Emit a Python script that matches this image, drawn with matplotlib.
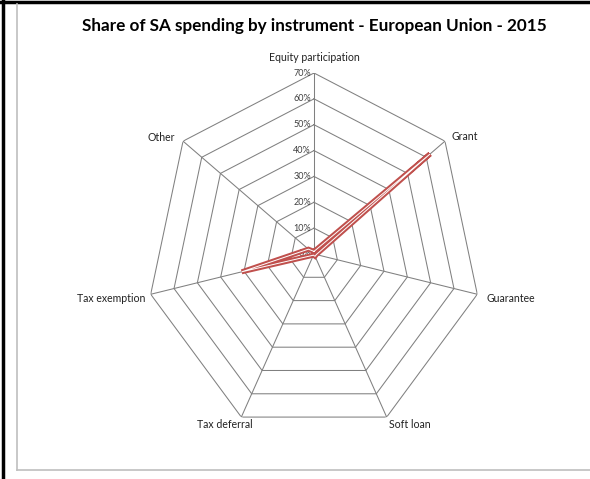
import numpy as np
import matplotlib.pyplot as plt
from matplotlib.lines import Line2D

categories = ['Equity participation', 'Grant', 'Guarantee', 'Soft loan',
              'Tax deferral', 'Tax exemption', 'Other']
values = [0.01, 0.62, 0.01, 0.01, 0.005, 0.31, 0.03]
levels = [0.0, 0.1, 0.2, 0.3, 0.4, 0.5, 0.6, 0.7]
level_labels = ['0%', '10%', '20%', '30%', '40%', '50%', '60%', '70%']

plt.rcParams['font.family'] = ['Lato', 'DejaVu Sans']

W, H = 590, 479
fig = plt.figure(figsize=(W / 100, H / 100), dpi=100)

# radar area is a bit squeezed horizontally, like in the original
cx, cy = 314, H - 254
rx, ry = 167.5, 181
ax = fig.add_axes([(cx - rx) / W, (cy - ry) / H, 2 * rx / W, 2 * ry / H],
                  projection='polar')
ax.set_aspect('auto')
ax.set_theta_zero_location('N')
ax.set_theta_direction(-1)
ax.set_ylim(0, 0.7)
ax.grid(False)
ax.spines['polar'].set_visible(False)
ax.set_xticks([])
ax.set_yticks([])
ax.patch.set_alpha(0)

n = len(categories)
ang = np.linspace(0, 2 * np.pi, n, endpoint=False)
ang_c = np.append(ang, ang[0])

gcol = '#808080'
for r in levels[1:]:
    ax.plot(ang_c, [r] * (n + 1), color=gcol, lw=0.75, zorder=1)
for a in ang:
    ax.plot([a, a], [0, 0.7], color=gcol, lw=0.75, zorder=1)

for r, lab in zip(levels, level_labels):
    ax.annotate(lab, xy=(0, r), xytext=(-3, 0), textcoords='offset pixels',
                ha='right', va='center', fontsize=6.5, color='#404040', zorder=2)

vals = np.append(values, values[0])
ax.plot(ang_c, vals, color='#C0504D', lw=3.6, zorder=3, solid_joinstyle='miter')
ax.plot(ang_c, vals, color='white', lw=0.7, zorder=4, solid_joinstyle='miter')

offsets = [(0, 10, 'center', 'bottom'), (7, 5, 'left', 'center'),
           (9, -4, 'left', 'center'), (2, -7, 'left', 'center'),
           (-17, -7, 'center', 'center'), (-5, -4, 'right', 'center'),
           (-8, 4, 'right', 'center')]
for a, lab, (dx, dy, ha, va) in zip(ang, categories, offsets):
    ax.annotate(lab, xy=(a, 0.7), xytext=(dx, dy), textcoords='offset pixels',
                ha=ha, va=va, fontsize=7.6, color='#222222')

fig.text(314 / W, 1 - 26 / H, 'Share of SA spending by instrument - European Union - 2015',
         ha='center', va='center', fontsize=12.3, fontweight='bold', color='black')

# outer frame lines
fig.add_artist(Line2D([3 / W, 3 / W], [0, 1], color='black', lw=2.5))
fig.add_artist(Line2D([0, 1], [1 - 2 / H, 1 - 2 / H], color='black', lw=2.5))
fig.add_artist(Line2D([17 / W, 17 / W], [1 - 4 / H, 1 - 470 / H], color='#BFBFBF', lw=1.2))
fig.add_artist(Line2D([17 / W, 1], [1 - 470 / H, 1 - 470 / H], color='#BFBFBF', lw=1.2))

fig.savefig('out.png', dpi=100)
